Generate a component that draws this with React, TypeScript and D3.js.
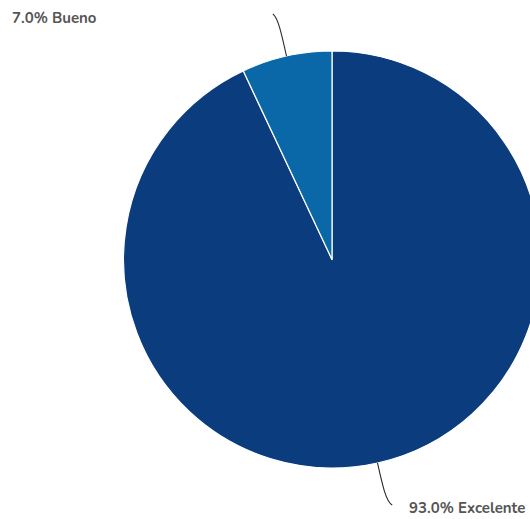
import React from "react";
import * as d3 from "d3";

const categories = ["Excelente", "Bueno"];
const values = [93.0, 7.0];
const colors = ["#0b3d7e", "#0a67a8"];

const W = 530;
const H = 519;
const cx = 332;
const cy = 259.5;
const R = 208.5;

export default function App() {
  const data = categories.map((c, i) => ({ name: c, value: values[i], color: colors[i] }));
  const pie = d3.pie<any>().sort(null).value((d: any) => d.value);
  const arcs = pie(data);
  const arcGen = d3.arc<any>().innerRadius(0).outerRadius(R);
  const pt = (a: number, r: number) => [Math.sin(a) * r, -Math.cos(a) * r];

  return (
    <svg width={W} height={H} style={{ position: "absolute", left: 0, top: 0, fontFamily: "Nunito, Lato, 'Open Sans', sans-serif" }}>
      <g transform={`translate(${cx},${cy})`}>
        {arcs.map((a, i) => (
          <path key={i} d={arcGen(a) as string} fill={a.data.color} stroke="#ffffff" strokeWidth={1.2} strokeLinejoin="round" />
        ))}
        {arcs.map((a, i) => {
          const mid = (a.startAngle + a.endAngle) / 2;
          const [x0, y0] = pt(mid, R);
          const [x1, y1] = pt(mid, R + 24);
          const [x2, y2] = pt(mid, R + 40);
          const left = Math.sin(mid) < 0;
          const ex = x2 + (left ? -5 : 6);
          const ey = y2 + (left ? -3 : 3);
          const d = `M${x0},${y0} C${x1},${y1} ${x2},${y2} ${ex},${ey}`;
          return <path key={"c" + i} d={d} fill="none" stroke="#2b2b2b" strokeWidth={1.1} />;
        })}
      </g>
      {arcs.map((a, i) => {
        const mid = (a.startAngle + a.endAngle) / 2;
        const left = Math.sin(mid) < 0;
        const x = left ? 12 : 409;
        const y = left ? 23 : 513;
        return (
          <text key={"t" + i} x={x} y={y} fontSize={15} fontWeight="bold" fill="#555555">
            {`${a.data.value.toFixed(1)}% ${a.data.name}`}
          </text>
        );
      })}
    </svg>
  );
}
